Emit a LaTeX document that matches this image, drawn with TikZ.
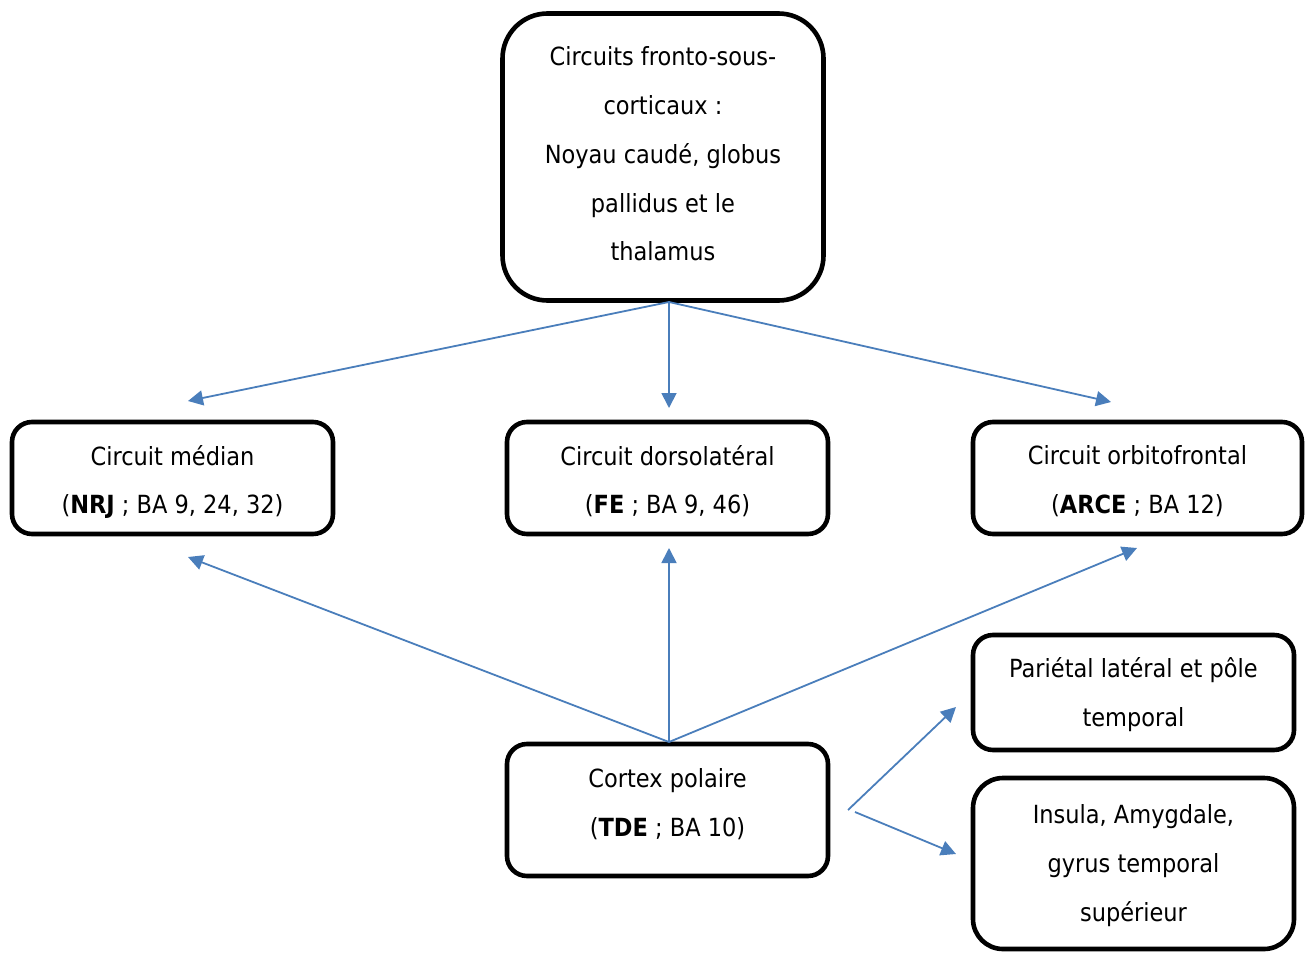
\documentclass[tikz,border=0pt]{standalone}
\usepackage{fontspec}
\setmainfont{DejaVu Sans Condensed}
\usetikzlibrary{arrows.meta}
\definecolor{arrowblue}{RGB}{74,126,187}
\tikzset{
  box/.style={draw=black, line width=4.6pt, fill=white, inner sep=0pt},
  boxtext/.style={align=center, inner sep=0pt, font=\fontsize{25}{48.7}\selectfont},
  conn/.style={draw=arrowblue, line width=1.8pt, -{Triangle[length=15pt,width=15pt]}},
}
\begin{document}
\begin{tikzpicture}[x=1pt,y=-1pt]
\useasboundingbox (0,0) rectangle (1306,953);
\node[box, rounded corners=45pt, minimum width=321pt, minimum height=287pt] (top) at (663,157) {};
\node[box, rounded corners=20pt, minimum width=321pt, minimum height=112pt] (med) at (172.5,478) {};
\node[box, rounded corners=20pt, minimum width=321pt, minimum height=112pt] (dors) at (667.5,478) {};
\node[box, rounded corners=20pt, minimum width=329pt, minimum height=112pt] (orb) at (1137.5,478) {};
\node[box, rounded corners=20pt, minimum width=321pt, minimum height=132pt] (cort) at (667.5,810) {};
\node[box, rounded corners=20pt, minimum width=321pt, minimum height=115pt] (par) at (1133.5,692.5) {};
\node[box, rounded corners=30pt, minimum width=321pt, minimum height=171pt] (ins) at (1133.5,863.5) {};

\node[boxtext] (topt) at ([yshift=3pt]top.center)
  {Circuits fronto-sous-\\corticaux :\\Noyau caudé, globus\\pallidus et le\\thalamus};
\node[boxtext] (medt) at ([yshift=-4pt]med.center) {Circuit médian\\(\textbf{NRJ} ; BA 9, 24, 32)};
\node[boxtext] (dorst) at ([yshift=-3pt]dors.center) {Circuit dorsolatéral\\(\textbf{FE} ; BA 9, 46)};
\node[boxtext] (orbt) at ([yshift=-3pt]orb.center) {Circuit orbitofrontal\\(\textbf{ARCE} ; BA 12)};
\node[boxtext] (cortt) at ([yshift=6pt]cort.center) {Cortex polaire\\(\textbf{TDE} ; BA 10)};
\node[boxtext] (part) at ([yshift=-2pt]par.center) {Pariétal latéral et pôle\\temporal};
\node[boxtext] (inst) at ([yshift=-2pt]ins.center) {Insula, Amygdale,\\gyrus temporal\\supérieur};

\coordinate (tsrc) at (669,302);
\coordinate (csrc) at (669,742);
\coordinate (medin) at (188,401);
\coordinate (dorsin) at (669,408);
\coordinate (orbin) at (1111,402);
\coordinate (medout) at (188,557);
\coordinate (dorsout) at (669,548);
\coordinate (orbout) at (1137,548);
\coordinate (s1) at (848,810);
\coordinate (s2) at (855,812);
\coordinate (parin) at (956,707);
\coordinate (insin) at (956,854);
\draw[conn] (tsrc) -- (medin);
\draw[conn] (tsrc) -- (dorsin);
\draw[conn] (tsrc) -- (orbin);
\draw[conn] (csrc) -- (medout);
\draw[conn] (csrc) -- (dorsout);
\draw[conn] (csrc) -- (orbout);
\draw[conn] (s1) -- (parin);
\draw[conn] (s2) -- (insin);
\end{tikzpicture}
\end{document}
